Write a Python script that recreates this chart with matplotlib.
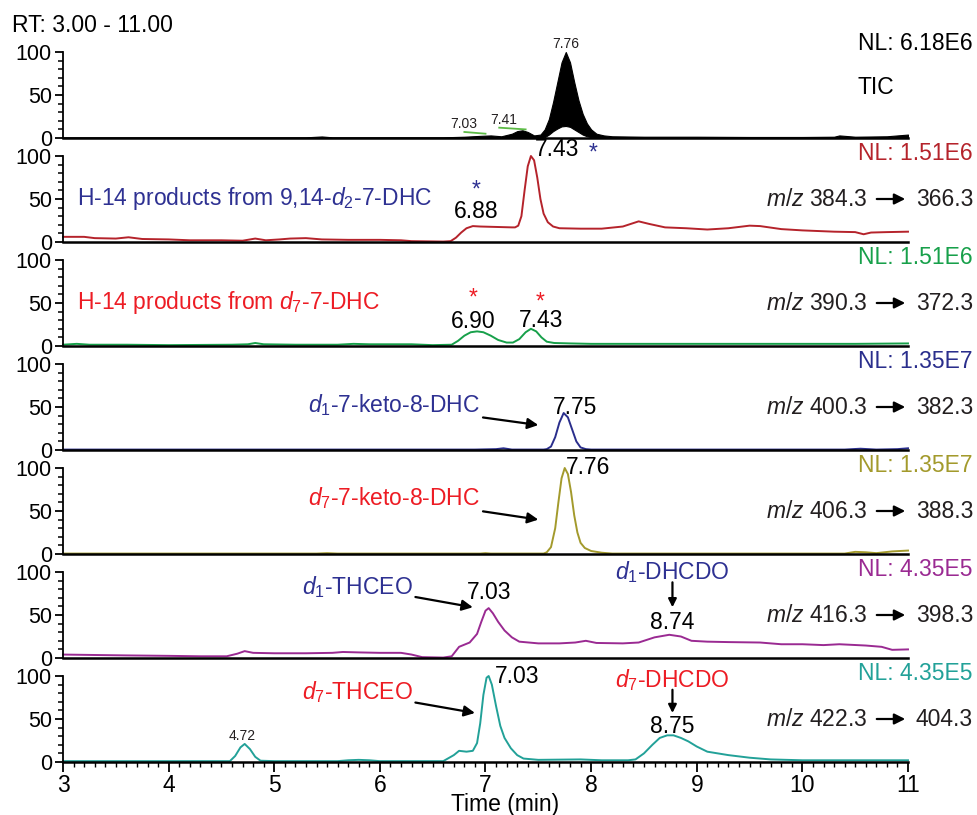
import matplotlib
matplotlib.use("Agg")
import matplotlib.pyplot as plt
from matplotlib.patches import FancyArrowPatch
from matplotlib.ticker import MultipleLocator

plt.rcParams['font.family'] = ['Liberation Sans', 'DejaVu Sans']
plt.rcParams['mathtext.fontset'] = 'custom'
plt.rcParams['mathtext.rm'] = 'Liberation Sans'
plt.rcParams['mathtext.it'] = 'Liberation Sans:italic'

# --- data (time in min, relative abundance %) ---
tic_t = [3.0, 4.0, 5.3, 5.45, 5.55, 6.6, 6.8, 6.95, 7.05, 7.15, 7.25, 7.30, 7.35, 7.40, 7.46,
         7.52, 7.56, 7.60, 7.64, 7.68, 7.72, 7.76, 7.80, 7.84, 7.88, 7.92, 7.96, 8.0, 8.05,
         8.12, 8.2, 8.5, 9.0, 9.5, 10.0, 10.3, 10.35, 10.5, 10.8, 10.9, 11.0]
tic_hi = [0.8, 0.8, 0.8, 1.8, 0.8, 0.8, 1.5, 2.5, 3, 2, 5, 8, 9, 7, 3,
          4, 10, 22, 42, 65, 88, 100, 88, 65, 44, 28, 17, 10, 5,
          3, 2, 1.5, 1.5, 1.2, 1.2, 1.5, 3, 1.5, 2, 3, 4]
tic_lo = [0, 0, 0, 0, 0, 0, 0, 0, 0, 0, 0, 0, 0, 0, 0,
          0, 1, 4, 8, 11, 13.5, 14, 13, 10, 7, 4, 2, 1, 0,
          0, 0, 0, 0, 0, 0, 0, 0, 0, 0, 0, 0]

red_t = [3.0, 3.2, 3.3, 3.5, 3.62, 3.75, 4.0, 4.2, 4.5, 4.7, 4.82, 4.92, 5.05, 5.15, 5.3,
         5.45, 5.7, 6.0, 6.2, 6.3, 6.6, 6.67, 6.72, 6.77, 6.82, 6.88, 6.95, 7.1, 7.25, 7.28,
         7.31, 7.34, 7.37, 7.40, 7.43, 7.46, 7.49, 7.52, 7.55, 7.59, 7.64, 7.70, 7.9, 8.1,
         8.3, 8.45, 8.55, 8.7, 8.9, 9.1, 9.3, 9.5, 9.6, 9.8, 10.0, 10.3, 10.5, 10.58, 10.65,
         10.8, 11.0]
red_y = [6, 6, 4.5, 4, 5.5, 3.5, 3, 2, 2, 1.5, 4, 2, 3, 4, 4.5,
         3, 2.5, 2.5, 2, 1, 0.5, 1, 5, 11, 16, 18.5, 18, 17.5, 17, 17,
         19, 30, 60, 88, 100, 95, 75, 50, 33, 23, 18, 16, 15.5, 15.5,
         18, 24, 21, 17, 16, 14.5, 16, 19, 18.5, 15, 13.5, 12, 11.5, 9, 11,
         11.5, 12]

grn_t = [3.0, 3.13, 3.25, 3.6, 4.0, 4.6, 4.75, 4.82, 4.9, 5.2, 5.6, 5.75, 5.9, 6.3, 6.5,
         6.68, 6.74, 6.8, 6.86, 6.92, 6.98, 7.05, 7.12, 7.2, 7.26, 7.32, 7.38, 7.43, 7.48,
         7.53, 7.58, 7.65, 7.8, 8.0, 8.5, 9.0, 9.5, 10.0, 10.5, 11.0]
grn_y = [1.5, 2.5, 1.5, 1.5, 1, 1.5, 2, 3.5, 2, 1.5, 1.5, 2.5, 2, 2, 1,
         1.5, 6, 12, 16, 17, 16, 12, 7, 4, 4, 8, 16, 20, 17,
         10, 5, 3.5, 3, 2.5, 2.5, 2.5, 2.5, 2.5, 2.5, 3]

nav_t = [3.0, 6.9, 7.1, 7.17, 7.25, 7.55, 7.58, 7.62, 7.66, 7.70, 7.74, 7.78, 7.82, 7.86,
         7.90, 7.95, 8.0, 10.4, 10.55, 10.7, 10.9, 11.0]
nav_y = [0.5, 0.5, 1, 2, 0.5, 0.5, 1, 4, 15, 32, 43, 38, 24, 10,
         3, 1, 0.5, 0.5, 1.5, 0.5, 1, 2]

olv_t = [3.0, 5.4, 5.5, 5.6, 6.95, 7.0, 7.05, 7.55, 7.58, 7.62, 7.66, 7.69, 7.72, 7.75,
         7.78, 7.81, 7.84, 7.87, 7.90, 7.94, 8.0, 8.1, 8.2, 10.4, 10.5, 10.6, 10.7, 10.85,
         11.0]
olv_y = [0.5, 0.5, 1, 0.5, 0.5, 1, 0.5, 0.5, 2, 8, 30, 60, 88, 100,
         93, 72, 45, 25, 13, 7, 3.5, 1.5, 0.5, 0.5, 2.5, 2, 1, 3,
         4]

pur_t = [3.0, 3.3, 3.6, 4.0, 4.3, 4.55, 4.65, 4.72, 4.8, 5.0, 5.3, 5.55, 5.65, 5.8, 6.0,
         6.2, 6.3, 6.4, 6.6, 6.68, 6.75, 6.85, 6.92, 6.96, 7.0, 7.03, 7.07, 7.12, 7.18, 7.25,
         7.32, 7.5, 7.7, 7.85, 7.95, 8.05, 8.3, 8.45, 8.6, 8.74, 8.85, 8.95, 9.1, 9.3, 9.6,
         9.8, 10.0, 10.2, 10.35, 10.6, 10.75, 10.85, 11.0]
pur_y = [4, 3.5, 3, 2.5, 2, 2, 5, 8, 6, 5.5, 5.5, 6, 7, 6.5, 6,
         6, 4, 1, 0.5, 2, 13, 18, 28, 42, 55, 58, 52, 42, 32, 24,
         19, 17, 17, 18, 20, 17.5, 17, 18, 24, 27, 25, 20, 19, 18.5, 18,
         16, 16, 15, 16, 14.5, 13, 9.5, 10]

tea_t = [3.0, 4.58, 4.63, 4.68, 4.72, 4.77, 4.82, 4.87, 5.0, 5.6, 5.7, 5.8, 5.9, 6.0, 6.6,
         6.7, 6.75, 6.82, 6.88, 6.92, 6.95, 6.98, 7.01, 7.03, 7.06, 7.10, 7.14, 7.18, 7.24,
         7.30, 7.36, 7.5, 7.9, 8.1, 8.35, 8.42, 8.5, 8.58, 8.65, 8.72, 8.78, 8.85, 8.92,
         9.0, 9.1, 9.2, 9.3, 9.5, 9.7, 10.0, 10.5, 11.0]
tea_y = [1, 1, 7, 17, 21, 15, 6, 1.5, 1, 1, 2, 2.5, 2, 1, 1,
         8, 13, 12, 13, 22, 45, 78, 98, 100, 90, 65, 42, 28, 16,
         8, 4, 2.5, 3, 2, 2, 3, 10, 20, 28, 31, 31, 28, 24,
         18, 12, 10, 8, 5, 3, 2, 2, 2]

traces = [(tic_t, tic_hi), (red_t, red_y), (grn_t, grn_y), (nav_t, nav_y),
          (olv_t, olv_y), (pur_t, pur_y), (tea_t, tea_y)]
colors = ['black', '#B5232B', '#17A04A', '#2A2E8C', '#A39A2C', '#9A2A92', '#22A198']
nl_labels = ['NL: 6.18E6', 'NL: 1.51E6', 'NL: 1.51E6', 'NL: 1.35E7', 'NL: 1.35E7',
             'NL: 4.35E5', 'NL: 4.35E5']
mz_parent = [None, '384.3', '390.3', '400.3', '406.3', '416.3', '422.3']
mz_product = [None, '366.3', '372.3', '382.3', '388.3', '398.3', '404.3']

BLUE = '#2E3192'
RED = '#ED1C24'
FS = 16.5
W, H = 977, 815

fig = plt.figure(figsize=(W / 100, H / 100), dpi=100)


def fx(px):
    return px / W


def fy(py):
    return 1 - py / H


def fig_arrow(x0, y0, x1, y1):
    a = FancyArrowPatch((fx(x0), fy(y0)), (fx(x1), fy(y1)), transform=fig.transFigure,
                        arrowstyle='-|>', mutation_scale=16, lw=1.6, color='black')
    fig.add_artist(a)


axes = []
for k in range(7):
    base = 138 + 104 * k
    ax = fig.add_axes([fx(63), fy(base), 845 / W, 86 / H])
    ax.set_xlim(3, 11)
    ax.set_ylim(0, 100)
    for s in ['top', 'right']:
        ax.spines[s].set_visible(False)
    ax.spines['left'].set_linewidth(1.3)
    ax.spines['bottom'].set_linewidth(1.8)
    ax.set_yticks([0, 50, 100])
    ax.yaxis.set_minor_locator(MultipleLocator(10))
    ax.tick_params(axis='y', which='major', length=6, width=1.3, labelsize=15.5, pad=2)
    ax.tick_params(axis='y', which='minor', length=3.5, width=1.1)
    ax.patch.set_alpha(0)
    t, y = traces[k]
    if k == 0:
        ax.fill_between(tic_t, tic_lo, tic_hi, color='black', lw=0.8)
    else:
        ax.plot(t, y, color=colors[k], lw=1.4, clip_on=False)
    if k < 6:
        ax.tick_params(axis='x', which='both', bottom=False, labelbottom=False)
    else:
        ax.xaxis.set_major_locator(MultipleLocator(1))
        ax.xaxis.set_minor_locator(MultipleLocator(0.1))
        ax.tick_params(axis='x', which='major', length=7, width=1.3, labelsize=FS, pad=2)
        ax.tick_params(axis='x', which='minor', length=3.5, width=1.0)
    axes.append(ax)

    # right-hand labels
    top = base - 86
    nl_y = 43 if k == 0 else top - 3
    fig.text(fx(973), fy(nl_y), nl_labels[k], ha='right', va='center', fontsize=FS,
             color=colors[k])
    if k > 0:
        my = top + 43
        fig.text(fx(867), fy(my), r'$m/z$ ' + mz_parent[k], ha='right', va='center',
                 fontsize=FS, color='#231F20')
        fig_arrow(874, my, 908, my)
        fig.text(fx(973), fy(my), mz_product[k], ha='right', va='center', fontsize=FS,
                 color='#231F20')

fig.text(fx(12), fy(25), 'RT: 3.00 - 11.00', ha='left', va='center', fontsize=FS)
fig.text(fx(857), fy(88), 'TIC', ha='left', va='center', fontsize=FS)
fig.text(fx(505), fy(805), 'Time (min)', ha='center', va='center', fontsize=FS)

# TIC panel
a0 = axes[0]
a0.plot([6.80, 7.0], [7, 5], color='#5DBB46', lw=1.3, clip_on=False)
a0.plot([7.13, 7.38], [12, 10], color='#5DBB46', lw=1.3, clip_on=False)
a0.text(6.79, 16, '7.03', ha='center', va='center', fontsize=10, color='#231F20')
a0.text(7.17, 21, '7.41', ha='center', va='center', fontsize=10, color='#231F20')
a0.text(7.76, 109, '7.76', ha='center', va='center', fontsize=10, color='#231F20')

# panel 2
a = axes[1]
a.text(0.017, 50, r'H-14 products from 9,14-$\mathit{d}_{2}$-7-DHC', ha='left', va='center',
       fontsize=FS, color=BLUE, transform=a.get_yaxis_transform())
a.text(6.91, 60, '*', ha='center', va='center', fontsize=FS, color=BLUE)
a.text(6.91, 36, '6.88', ha='center', va='center', fontsize=FS)
a.text(7.68, 108, '7.43', ha='center', va='center', fontsize=FS, clip_on=False)
a.text(8.02, 104, '*', ha='center', va='center', fontsize=FS, color=BLUE)

# panel 3
a = axes[2]
a.text(0.017, 50, r'H-14 products from $\mathit{d}_{7}$-7-DHC', ha='left', va='center',
       fontsize=FS, color=RED, transform=a.get_yaxis_transform())
a.text(6.88, 56, '*', ha='center', va='center', fontsize=FS, color=RED)
a.text(6.88, 28, '6.90', ha='center', va='center', fontsize=FS)
a.text(7.52, 51, '*', ha='center', va='center', fontsize=FS, color=RED)
a.text(7.53, 30, '7.43', ha='center', va='center', fontsize=FS)

arrow_kw = dict(arrowstyle='-|>', lw=1.6, color='black', mutation_scale=16,
                shrinkA=0, shrinkB=0)

# panel 4
a = axes[3]
a.annotate(r'$\mathit{d}_{1}$-7-keto-8-DHC', xy=(7.5, 29), xytext=(6.95, 52),
           ha='right', va='center', fontsize=FS, color=BLUE, arrowprops=arrow_kw)
a.text(7.85, 49, '7.75', ha='center', va='center', fontsize=FS)

# panel 5
a = axes[4]
a.annotate(r'$\mathit{d}_{7}$-7-keto-8-DHC', xy=(7.5, 40), xytext=(6.95, 65),
           ha='right', va='center', fontsize=FS, color=RED, arrowprops=arrow_kw)
a.text(7.97, 101, '7.76', ha='center', va='center', fontsize=FS, clip_on=False)

# panel 6
a = axes[5]
a.annotate(r'$\mathit{d}_{1}$-THCEO', xy=(6.88, 59), xytext=(6.31, 83),
           ha='right', va='center', fontsize=FS, color=BLUE, arrowprops=arrow_kw)
a.text(7.03, 76, '7.03', ha='center', va='center', fontsize=FS)
a.text(8.77, 100, r'$\mathit{d}_{1}$-DHCDO', ha='center', va='center', fontsize=FS,
       color=BLUE, clip_on=False)
a.annotate('', xy=(8.77, 59), xytext=(8.77, 88), arrowprops=dict(arrow_kw, mutation_scale=12))
a.text(8.77, 41, '8.74', ha='center', va='center', fontsize=FS)

# panel 7
a = axes[6]
a.annotate(r'$\mathit{d}_{7}$-THCEO', xy=(6.9, 57), xytext=(6.31, 81),
           ha='right', va='center', fontsize=FS, color=RED, arrowprops=arrow_kw)
a.text(7.30, 99, '7.03', ha='center', va='center', fontsize=FS, clip_on=False)
a.text(8.77, 95, r'$\mathit{d}_{7}$-DHCDO', ha='center', va='center', fontsize=FS,
       color=RED, clip_on=False)
a.annotate('', xy=(8.77, 57), xytext=(8.77, 84), arrowprops=dict(arrow_kw, mutation_scale=12))
a.text(8.77, 41, '8.75', ha='center', va='center', fontsize=FS)
a.text(4.70, 30, '4.72', ha='center', va='center', fontsize=10, color='#231F20')

fig.savefig('out.png', dpi=100)
